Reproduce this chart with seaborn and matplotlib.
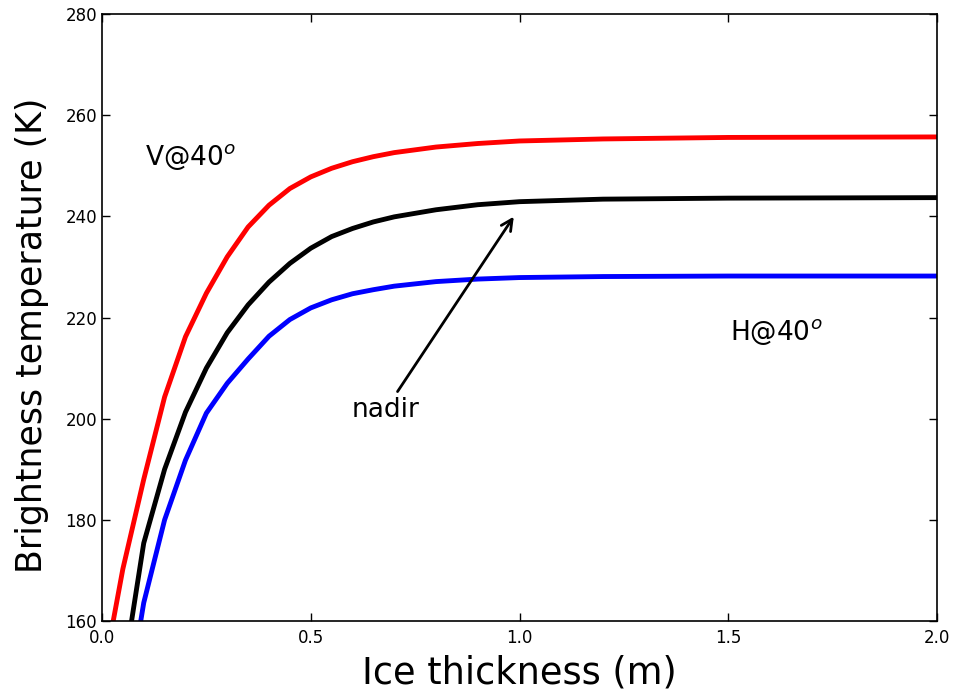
import matplotlib
matplotlib.use("Agg")
import matplotlib.pyplot as plt
import seaborn as sns
import pandas as pd

thickness = [0.0, 0.05, 0.1, 0.15, 0.2, 0.25, 0.3, 0.35, 0.4, 0.45, 0.5, 0.55,
             0.6, 0.65, 0.7, 0.8, 0.9, 1.0, 1.2, 1.5, 2.0]
tb_v40 = [148, 170.3, 188, 204.3, 216.2, 224.8, 232, 237.9, 242.2, 245.5, 247.8, 249.5,
          250.8, 251.8, 252.6, 253.7, 254.4, 254.9, 255.3, 255.6, 255.7]
tb_nadir = [120, 149, 175.4, 190, 201.3, 210, 217, 222.5, 227, 230.7, 233.7, 236.0,
            237.6, 238.9, 239.9, 241.3, 242.3, 242.9, 243.4, 243.6, 243.7]
tb_h40 = [110, 138.5, 163.6, 180, 191.8, 201.1, 207, 211.8, 216.3, 219.6, 221.9, 223.5,
          224.7, 225.5, 226.2, 227.1, 227.6, 227.9, 228.1, 228.2, 228.2]
series_names = ["V@40", "nadir", "H@40"]
series_colors = ["red", "black", "blue"]

x_ticks = [0.0, 0.5, 1.0, 1.5, 2.0]
y_ticks = [160, 180, 200, 220, 240, 260, 280]

sns.set_style("ticks")
plt.rcParams["text.color"] = "black"
plt.rcParams["axes.labelcolor"] = "black"
plt.rcParams["xtick.color"] = "black"
plt.rcParams["ytick.color"] = "black"

df = pd.concat([
    pd.DataFrame({"x": thickness, "y": vals, "s": name})
    for name, vals in zip(series_names, [tb_v40, tb_nadir, tb_h40])
])

fig = plt.figure(figsize=(9.54, 6.97), dpi=100)
ax = fig.add_axes([0.1069, 0.109, 0.8753, 0.8709])
sns.lineplot(data=df, x="x", y="y", hue="s", palette=dict(zip(series_names, series_colors)),
             linewidth=3.5, ax=ax, legend=False, sort=False)

ax.set_xlim(0, 2.0)
ax.set_ylim(160, 280)
ax.set_xticks(x_ticks)
ax.set_xticklabels([f"{t:.1f}" for t in x_ticks])
ax.set_yticks(y_ticks)
ax.set_yticklabels([str(t) for t in y_ticks])
ax.tick_params(direction="in", top=True, right=True, labelsize=12, length=6, width=1,
               colors="black")
ax.tick_params(axis="x", pad=6)
for sp in ax.spines.values():
    sp.set_visible(True)
    sp.set_linewidth(1.2)
    sp.set_color("black")

ax.set_xlabel("Ice thickness (m)", fontsize=26.5, color="black")
ax.set_ylabel("Brightness temperature (K)", fontsize=25, color="black")
ax.xaxis.set_label_coords(0.5, -0.055)
ax.yaxis.set_label_coords(-0.064, 0.47)

ax.text(0.103, 250.2, "V@40$^o$", fontsize=19, ha="left", va="baseline", color="black")
ax.text(1.503, 215.5, "H@40$^o$", fontsize=19, ha="left", va="baseline", color="black")
ax.annotate("nadir", xy=(0.99, 240.4), xytext=(0.597, 200.3), fontsize=19,
            ha="left", va="baseline", color="black",
            arrowprops=dict(arrowstyle="->", lw=2, color="black", mutation_scale=20))

fig.savefig("out.png", dpi=100)
